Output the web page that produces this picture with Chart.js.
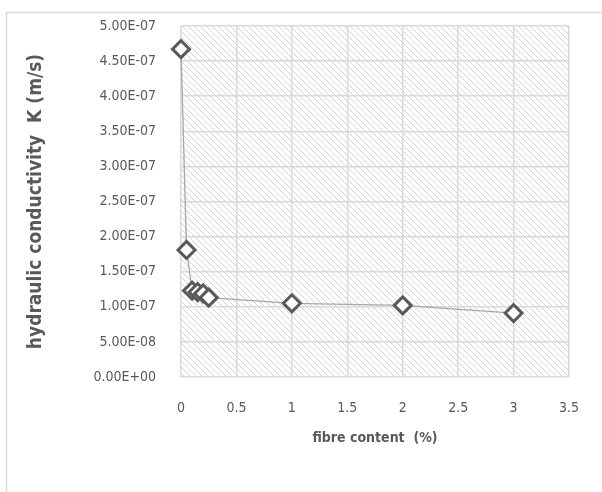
<!DOCTYPE html>
<html>
<head>
<meta charset="utf-8">
<script src="https://cdn.jsdelivr.net/npm/chart.js@4/dist/chart.umd.min.js"></script>
<style>
  html, body { margin: 0; padding: 0; background: #ffffff; }
  #wrap { width: 602px; height: 492px; }
</style>
</head>
<body>
<div id="wrap"><canvas id="c" width="602" height="492"></canvas></div>
<script>
// Fibre content (%) and measured hydraulic conductivity K (m/s)
const fibreContent = [0, 0.05, 0.1, 0.15, 0.2, 0.25, 1, 2, 3];
const conductivity = [4.67e-7, 1.81e-7, 1.23e-7, 1.21e-7, 1.19e-7, 1.13e-7, 1.05e-7, 1.02e-7, 0.91e-7];

// Axis tick labels
const xTickLabels = ['0', '0.5', '1', '1.5', '2', '2.5', '3', '3.5'];
const yTickLabels = ['0.00E+00', '5.00E-08', '1.00E-07', '1.50E-07', '2.00E-07', '2.50E-07',
                     '3.00E-07', '3.50E-07', '4.00E-07', '4.50E-07', '5.00E-07'];

const xTickValues = xTickLabels.map(Number);
const yTickValues = yTickLabels.map(Number);

const points = fibreContent.map((x, i) => ({ x: x, y: conductivity[i] }));

// Diagonal hatch used as the plot-area background
function makeHatch() {
  const t = document.createElement('canvas');
  t.width = 6; t.height = 6;
  const g = t.getContext('2d');
  g.strokeStyle = '#d4d4d4';
  g.lineWidth = 1;
  g.beginPath();
  g.moveTo(-1, -1); g.lineTo(7, 7);
  g.moveTo(-1, 5); g.lineTo(1, 7);
  g.moveTo(5, -1); g.lineTo(7, 1);
  g.stroke();
  return t;
}

const hatchBackground = {
  id: 'hatchBackground',
  beforeDraw(chart) {
    const { ctx, chartArea: a } = chart;
    ctx.save();
    // outer frame
    ctx.strokeStyle = '#d9d9d9';
    ctx.lineWidth = 1.5;
    ctx.beginPath();
    ctx.moveTo(6.5, 492); ctx.lineTo(6.5, 12.5); ctx.lineTo(602, 12.5);
    ctx.stroke();
    // hatched plot area
    ctx.fillStyle = ctx.createPattern(makeHatch(), 'repeat');
    ctx.fillRect(a.left, a.top, a.right - a.left, a.bottom - a.top);
    ctx.restore();
  }
};

const family = '"DejaVu Sans Condensed", "DejaVu Sans", sans-serif';
const tickFont = { family: family, size: 14 };
const hidden = 'rgba(0,0,0,0)';

new Chart(document.getElementById('c'), {
  type: 'scatter',
  data: {
    datasets: [{
      data: points,
      showLine: true,
      clip: false,
      borderColor: '#a6a6a6',
      borderWidth: 1.3,
      pointStyle: 'rectRot',
      pointRadius: 8.5,
      pointHoverRadius: 8.5,
      pointBorderWidth: 3,
      pointBorderColor: '#595959',
      pointBackgroundColor: '#ffffff',
      tension: 0
    }]
  },
  options: {
    responsive: false,
    animation: false,
    layout: { autoPadding: false, padding: { left: 0, right: 33, top: 26, bottom: 0 } },
    plugins: { legend: { display: false }, tooltip: { enabled: false } },
    scales: {
      x: {
        type: 'linear',
        min: 0, max: 3.5,
        afterBuildTicks: s => { s.ticks = xTickValues.map(v => ({ value: v })); },
        afterFit: s => { s.height = 115; },
        grid: { color: '#d9d9d9', lineWidth: 1.5, drawTicks: true, tickLength: 20, tickColor: hidden },
        border: { display: false },
        ticks: {
          padding: 3,
          color: '#595959',
          font: tickFont,
          maxRotation: 0,
          callback: (v, i) => xTickLabels[i]
        },
        title: {
          display: true,
          text: 'fibre content  (%)',
          color: '#595959',
          font: { family: family, size: 14, weight: 'bold' },
          padding: { top: 0, bottom: 45 }
        }
      },
      y: {
        type: 'linear',
        min: 0, max: 5e-7,
        afterBuildTicks: s => { s.ticks = yTickValues.map(v => ({ value: v })); },
        afterFit: s => { s.width = 181; },
        grid: { color: '#d9d9d9', lineWidth: 1.5, drawTicks: true, tickLength: 22, tickColor: hidden },
        border: { display: false },
        ticks: {
          padding: 3,
          color: '#595959',
          font: tickFont,
          callback: (v, i) => yTickLabels[i]
        },
        title: {
          display: true,
          text: 'hydraulic conductivity  K (m/s)',
          color: '#595959',
          font: { family: family, size: 19, weight: 'bold' },
          padding: { top: 25, bottom: 0 }
        }
      }
    }
  },
  plugins: [hatchBackground]
});
</script>
</body>
</html>
